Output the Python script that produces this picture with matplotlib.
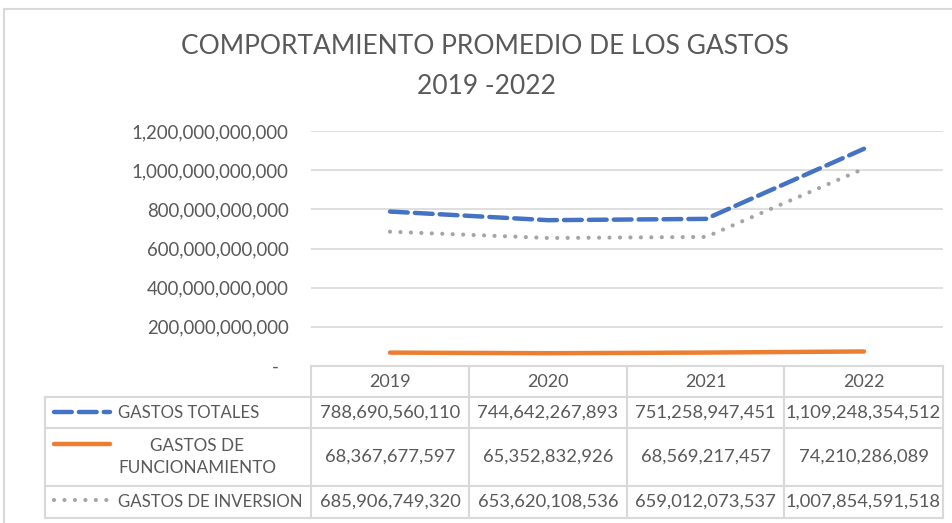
import matplotlib
matplotlib.use("Agg")
import matplotlib.pyplot as plt
from matplotlib.lines import Line2D

plt.rcParams['font.family'] = ['Lato', 'DejaVu Sans']

# Data
years = ["2019", "2020", "2021", "2022"]
gastos_totales = [788690560110, 744642267893, 751258947451, 1109248354512]
gastos_funcionamiento = [68367677597, 65352832926, 68569217457, 74210286089]
gastos_inversion = [685906749320, 653620108536, 659012073537, 1007854591518]
series_names = ["GASTOS TOTALES", "GASTOS DE\nFUNCIONAMIENTO", "GASTOS DE INVERSION"]
y_ticks = [0, 200e9, 400e9, 600e9, 800e9, 1000e9, 1200e9]

W, H = 952, 523
TEXT = "#595959"
GRID = "#D9D9D9"
BLUE = "#4472C4"
ORANGE = "#ED7D31"
GRAY = "#A5A5A5"

fig = plt.figure(figsize=(W / 100, H / 100), dpi=100)


def fx(x):
    return x / W


def fy(y):
    return 1 - y / H


# Chart frame
fig.add_artist(Line2D([fx(4), fx(W)], [fy(9), fy(9)], color=GRID, lw=1.5))
fig.add_artist(Line2D([fx(4), fx(4)], [fy(9), fy(H)], color=GRID, lw=1.5))

# Title
fig.text(fx(485), fy(47), "COMPORTAMIENTO PROMEDIO DE LOS GASTOS", ha="center",
         va="center", fontsize=19, color=TEXT)
fig.text(fx(487), fy(86), "2019 -2022", ha="center", va="center",
         fontsize=19, color=TEXT)

# Plot area
x0, x1, ytop, ybot = 311, 943, 131, 366
ax = fig.add_axes([fx(x0), fy(ybot), fx(x1) - fx(x0), fy(ytop) - fy(ybot)])
ax.set_xlim(-0.5, len(years) - 0.5)
ax.set_ylim(0, 1200e9)
ax.set_yticks(y_ticks)
ax.set_yticklabels(["-  " if v == 0 else f"{v:,.0f}" for v in y_ticks],
                   fontsize=13.4, color=TEXT)
ax.tick_params(axis="y", length=0, pad=16)
ax.set_xticks([])
for s in ax.spines.values():
    s.set_visible(False)
ax.grid(axis="y", color=GRID, lw=1.2)
ax.set_axisbelow(True)
ax.patch.set_alpha(0)

xs = list(range(len(years)))
ax.plot(xs, gastos_totales, color=BLUE, lw=3.2, linestyle=(0, (4, 1.6)),
        solid_capstyle="round", dash_capstyle="round", clip_on=False)
ax.plot(xs, gastos_funcionamiento, color=ORANGE, lw=3.2,
        solid_capstyle="round", clip_on=False)
ax.plot(xs, gastos_inversion, color=GRAY, lw=3.0, linestyle=(0, (0.01, 2.5)),
        dash_capstyle="round", clip_on=False)

# Data table
col_edges = [311, 469, 627, 784, 943]
row_edges = [366, 397, 428, 486, 518]
tl = 45
kw = dict(color=GRID, lw=1.5)
fig.add_artist(Line2D([fx(col_edges[0]), fx(col_edges[-1])], [fy(366), fy(366)], **kw))
for y in row_edges[1:]:
    fig.add_artist(Line2D([fx(tl), fx(col_edges[-1])], [fy(y), fy(y)], **kw))
fig.add_artist(Line2D([fx(tl), fx(tl)], [fy(397), fy(518)], **kw))
for x in col_edges:
    fig.add_artist(Line2D([fx(x), fx(x)], [fy(366), fy(518)], **kw))

for i, yr in enumerate(years):
    cx = (col_edges[i] + col_edges[i + 1]) / 2
    fig.text(fx(cx), fy(382), yr, ha="center", va="center", fontsize=13, color=TEXT)

rows = [gastos_totales, gastos_funcionamiento, gastos_inversion]
styles = [dict(color=BLUE, lw=3.2, linestyle=(0, (4, 1.6)), dash_capstyle="round"),
          dict(color=ORANGE, lw=3.2, solid_capstyle="round"),
          dict(color=GRAY, lw=3.0, linestyle=(0, (0.01, 2.5)), dash_capstyle="round")]
key_y = [412, 444, 500]
for r, vals in enumerate(rows):
    cy = (row_edges[r + 1] + row_edges[r + 2]) / 2
    for i, v in enumerate(vals):
        cx = (col_edges[i] + col_edges[i + 1]) / 2
        fig.text(fx(cx), fy(cy), f"{v:,}", ha="center", va="center",
                 fontsize=13.2, color=TEXT)
    fig.add_artist(Line2D([fx(54), fx(110)], [fy(key_y[r]), fy(key_y[r])], **styles[r]))
    if r == 1:
        fig.text(fx(197), fy(cy), series_names[r], ha="center", va="center",
                 fontsize=12.3, color=TEXT, linespacing=1.5, multialignment="center")
    else:
        fig.text(fx(118), fy(cy), series_names[r], ha="left", va="center",
                 fontsize=12.1, color=TEXT)

fig.savefig("out.png", dpi=100)
